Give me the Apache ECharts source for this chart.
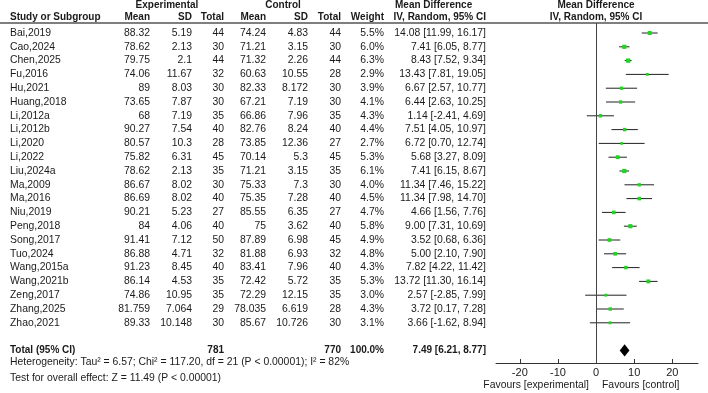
<!DOCTYPE html>
<html>
<head>
<meta charset="utf-8">
<script src="https://cdn.jsdelivr.net/npm/echarts@6/dist/echarts.min.js"></script>
<style>
  html, body { margin: 0; padding: 0; background: #fff; }
  #chart { width: 708px; height: 393px; }
</style>
</head>
<body>
<div id="chart"></div>
<script>
// study data
const studies = ['Bai,2019', 'Cao,2024', 'Chen,2025', 'Fu,2016', 'Hu,2021', 'Huang,2018', 'Li,2012a', 'Li,2012b',
  'Li,2020', 'Li,2022', 'Liu,2024a', 'Ma,2009', 'Ma,2016', 'Niu,2019', 'Peng,2018', 'Song,2017', 'Tuo,2024',
  'Wang,2015a', 'Wang,2021b', 'Zeng,2017', 'Zhang,2025', 'Zhao,2021'];
const expMean = ['88.32', '78.62', '79.75', '74.06', '89', '73.65', '68', '90.27', '80.57', '75.82', '78.62',
  '86.67', '86.69', '90.21', '84', '91.41', '86.88', '91.23', '86.14', '74.86', '81.759', '89.33'];
const expSD = ['5.19', '2.13', '2.1', '11.67', '8.03', '7.87', '7.19', '7.54', '10.3', '6.31', '2.13',
  '8.02', '8.02', '5.23', '4.06', '7.12', '4.71', '8.45', '4.53', '10.95', '7.064', '10.148'];
const expN = [44, 30, 44, 32, 30, 30, 35, 40, 28, 45, 35, 30, 40, 27, 40, 50, 32, 40, 35, 35, 29, 30];
const ctlMean = ['74.24', '71.21', '71.32', '60.63', '82.33', '67.21', '66.86', '82.76', '73.85', '70.14', '71.21',
  '75.33', '75.35', '85.55', '75', '87.89', '81.88', '83.41', '72.42', '72.29', '78.035', '85.67'];
const ctlSD = ['4.83', '3.15', '2.26', '10.55', '8.172', '7.19', '7.96', '8.24', '12.36', '5.3', '3.15',
  '7.3', '7.28', '6.35', '3.62', '6.98', '6.93', '7.96', '5.72', '12.15', '6.619', '10.726'];
const ctlN = [44, 30, 44, 28, 30, 30, 35, 40, 27, 45, 35, 30, 40, 27, 40, 45, 32, 40, 35, 35, 28, 30];
const weight = [5.5, 6.0, 6.3, 2.9, 3.9, 4.1, 4.3, 4.4, 2.7, 5.3, 6.1, 4.0, 4.5, 4.7, 5.8, 4.9, 4.8, 4.3, 5.3, 3.0, 4.3, 3.1];
const md = [14.08, 7.41, 8.43, 13.43, 6.67, 6.44, 1.14, 7.51, 6.72, 5.68, 7.41, 11.34, 11.34, 4.66, 9.00, 3.52, 5.00,
  7.82, 13.72, 2.57, 3.72, 3.66];
const ciLow = [11.99, 6.05, 7.52, 7.81, 2.57, 2.63, -2.41, 4.05, 0.70, 3.27, 6.15, 7.46, 7.98, 1.56, 7.31, 0.68, 2.10,
  4.22, 11.30, -2.85, 0.17, -1.62];
const ciHigh = [16.17, 8.77, 9.34, 19.05, 10.77, 10.25, 4.69, 10.97, 12.74, 8.09, 8.67, 15.22, 14.70, 7.76, 10.69, 6.36,
  7.90, 11.42, 16.14, 7.99, 7.28, 8.94];

// pooled result
const totalExpN = 781;
const totalCtlN = 770;
const totalWeight = 100.0;
const pooled = [7.49, 6.21, 8.77];
const heterogeneity = 'Heterogeneity: Tau\u00b2 = 6.57; Chi\u00b2 = 117.20, df = 21 (P < 0.00001); I\u00b2 = 82%';
const overallTest = 'Test for overall effect: Z = 11.49 (P < 0.00001)';
const tickValues = [-20, -10, 0, 10, 20];

const FONT = '"Liberation Sans", Arial, sans-serif';
const TEXT = '#1a1a1a';
const totalRow = studies.length + 1;

// column anchors (pixels) for the table part
const col = { study: 10, eMean: 150, eSD: 192, eN: 224, cMean: 266, cSD: 308, cN: 341, w: 384, ci: 486 };

const fmtCI = (m, l, h) => m.toFixed(2) + ' [' + l.toFixed(2) + ', ' + h.toFixed(2) + ']';

// table cells: [x, row, text, align, bold]
const cells = [];
cells.push([167, -1.99, 'Experimental', 'center', true]);
cells.push([283, -1.99, 'Control', 'center', true]);
cells.push([395, -1.99, 'Mean Difference', 'left', true]);
cells.push([596, -1.99, 'Mean Difference', 'center', true]);
cells.push([col.study, -1.12, 'Study or Subgroup', 'left', true]);
cells.push([col.eMean, -1.12, 'Mean', 'right', true]);
cells.push([col.eSD, -1.12, 'SD', 'right', true]);
cells.push([col.eN, -1.12, 'Total', 'right', true]);
cells.push([col.cMean, -1.12, 'Mean', 'right', true]);
cells.push([col.cSD, -1.12, 'SD', 'right', true]);
cells.push([col.cN, -1.12, 'Total', 'right', true]);
cells.push([col.w, -1.12, 'Weight', 'right', true]);
cells.push([col.ci, -1.12, 'IV, Random, 95% CI', 'right', true]);
cells.push([596, -1.12, 'IV, Random, 95% CI', 'center', true]);
studies.forEach((s, i) => {
  cells.push([col.study, i, s, 'left', false]);
  cells.push([col.eMean, i, expMean[i], 'right', false]);
  cells.push([col.eSD, i, expSD[i], 'right', false]);
  cells.push([col.eN, i, String(expN[i]), 'right', false]);
  cells.push([col.cMean, i, ctlMean[i], 'right', false]);
  cells.push([col.cSD, i, ctlSD[i], 'right', false]);
  cells.push([col.cN, i, String(ctlN[i]), 'right', false]);
  cells.push([col.w, i, weight[i].toFixed(1) + '%', 'right', false]);
  cells.push([col.ci, i, fmtCI(md[i], ciLow[i], ciHigh[i]), 'right', false]);
});
cells.push([col.study, totalRow, 'Total (95% CI)', 'left', true]);
cells.push([col.eN, totalRow, String(totalExpN), 'right', true]);
cells.push([col.cN, totalRow, String(totalCtlN), 'right', true]);
cells.push([col.w, totalRow, totalWeight.toFixed(1) + '%', 'right', true]);
cells.push([col.ci, totalRow, fmtCI(pooled[0], pooled[1], pooled[2]), 'right', true]);
cells.push([col.study, totalRow + 0.84, heterogeneity, 'left', false]);
cells.push([col.study, totalRow + 2.0, overallTest, 'left', false]);
cells.push([589, totalRow + 2.5, 'Favours [experimental]', 'right', false]);
cells.push([602, totalRow + 2.5, 'Favours [control]', 'left', false]);

const rowAxis = { type: 'value', inverse: true, min: -0.725, max: 23.913, show: false };

const chart = echarts.init(document.getElementById('chart'));
const option = {
  animation: false,
  grid: [
    { left: 0, width: 708, top: 23, height: 340 },
    { left: 496, width: 202, top: 23, height: 340 }
  ],
  xAxis: [
    { gridIndex: 0, type: 'value', min: 0, max: 708, show: false },
    {
      gridIndex: 1, type: 'value', min: -26.25, max: 26.75,
      axisLine: { show: true, onZero: false, lineStyle: { color: '#333', width: 1 } },
      axisTick: { show: true, inside: true, length: 4, customValues: tickValues, lineStyle: { color: '#333' } },
      axisLabel: { customValues: tickValues, fontSize: 11, color: TEXT, fontFamily: FONT, margin: 4 },
      splitLine: { show: false }
    }
  ],
  yAxis: [
    Object.assign({ gridIndex: 0 }, rowAxis),
    Object.assign({ gridIndex: 1 }, rowAxis)
  ],
  graphic: [{
    type: 'line', shape: { x1: 0, y1: 23, x2: 708, y2: 23 },
    style: { stroke: '#555', lineWidth: 1.5 }
  }],
  series: [
    {
      type: 'custom', name: 'table', xAxisIndex: 0, yAxisIndex: 0, clip: false,
      data: cells.map(c => [c[0], c[1]]),
      renderItem: (params, api) => {
        const c = cells[params.dataIndex];
        const p = api.coord([c[0], c[1]]);
        return {
          type: 'text', x: p[0], y: p[1],
          style: {
            text: c[2], align: c[3], verticalAlign: 'middle', fill: TEXT,
            font: c[4] ? 'bold 10px ' + FONT : '10.4px ' + FONT
          }
        };
      }
    },
    {
      type: 'custom', name: 'studies', xAxisIndex: 1, yAxisIndex: 1, clip: false,
      data: md.map((m, i) => [m, i]),
      renderItem: (params, api) => {
        const i = params.dataIndex;
        const p = api.coord([md[i], i]);
        const a = api.coord([ciLow[i], i]);
        const b = api.coord([ciHigh[i], i]);
        const s = 1.5 + weight[i] * 0.45;
        return {
          type: 'group',
          children: [
            { type: 'line', shape: { x1: a[0], y1: a[1], x2: b[0], y2: b[1] }, style: { stroke: '#222', lineWidth: 1 } },
            { type: 'rect', shape: { x: p[0] - s / 2, y: p[1] - s / 2, width: s, height: s }, style: { fill: '#22d422' } }
          ]
        };
      },
      markLine: {
        silent: true, symbol: 'none', label: { show: false },
        lineStyle: { color: '#444', width: 1, type: 'solid' },
        data: [{ xAxis: 0 }]
      }
    },
    {
      type: 'custom', name: 'pooled', xAxisIndex: 1, yAxisIndex: 1, clip: false,
      data: [[pooled[0], totalRow]],
      renderItem: (params, api) => {
        const l = api.coord([pooled[1], totalRow]);
        const r = api.coord([pooled[2], totalRow]);
        const t = api.coord([pooled[0], totalRow - 0.44]);
        const b = api.coord([pooled[0], totalRow + 0.44]);
        return {
          type: 'polygon',
          shape: { points: [l, t, r, b] },
          style: { fill: '#000' }
        };
      }
    }
  ]
};
chart.setOption(option);
</script>
</body>
</html>
